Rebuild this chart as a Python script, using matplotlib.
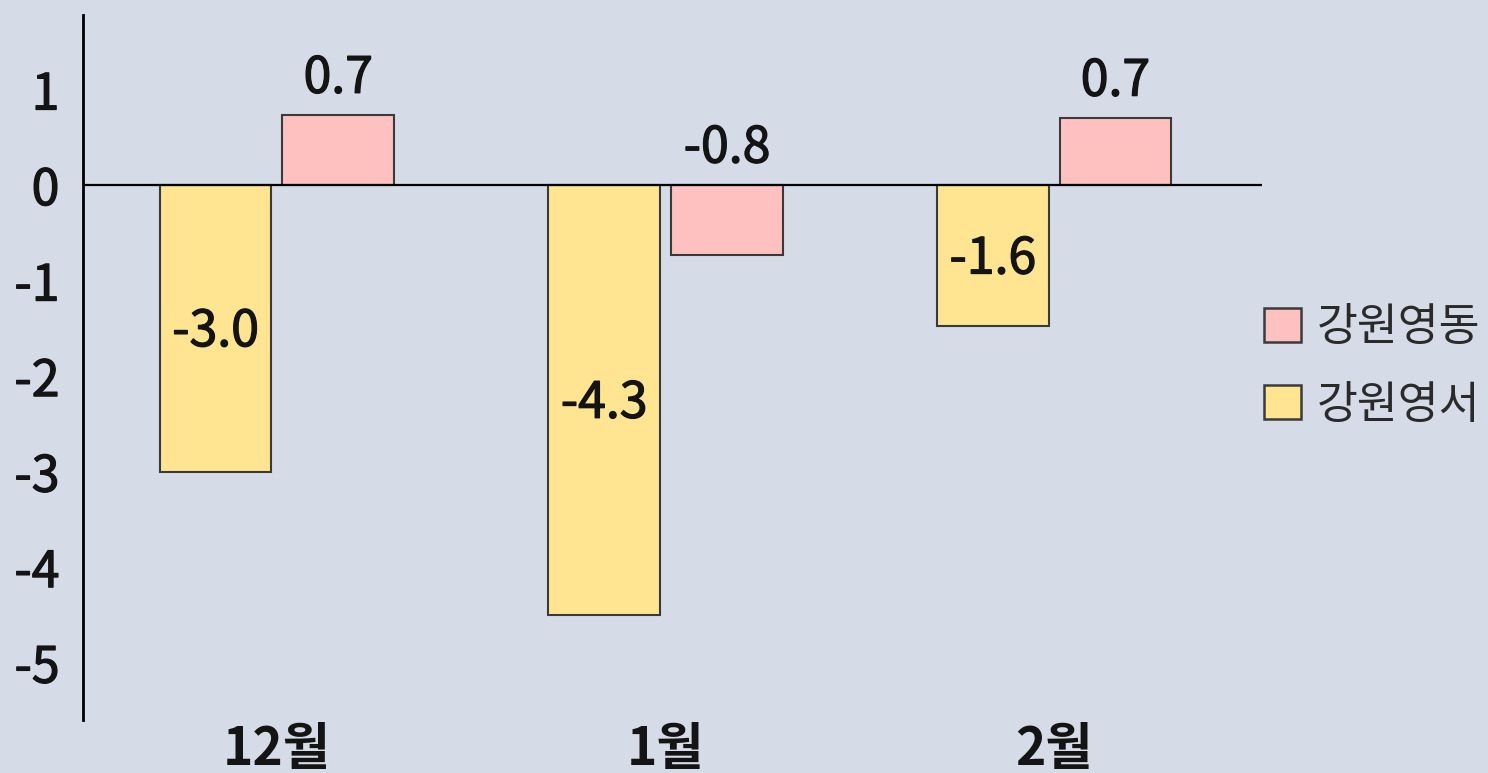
import matplotlib
matplotlib.use("Agg")
import matplotlib.pyplot as plt
import matplotlib.patheffects as pe
import numpy as np
from matplotlib.patches import Patch

plt.rcParams['font.family'] = ['Noto Sans CJK KR', 'DejaVu Sans']

categories = ['12월', '1월', '2월']
series_names = ['강원영동', '강원영서']
yeongdong = [0.73, -0.73, 0.70]      # bar heights
yeongseo = [-3.0, -4.5, -1.48]
yeongdong_labels = ['0.7', '-0.8', '0.7']
yeongseo_labels = ['-3.0', '-4.3', '-1.6']
yticks = [1, 0, -1, -2, -3, -4, -5]

bg = '#d5dce8'
pink = '#ffc0c0'
yellow = '#ffe592'
edge = '#3a3a3a'
txt = '#141414'
thick = [pe.withStroke(linewidth=0.9, foreground=txt)]

fig = plt.figure(figsize=(14.88, 7.73), dpi=100, facecolor=bg)
ax = fig.add_axes([83/1488, 1-720/773, (1262-83)/1488, (720-15)/773])
ax.set_facecolor(bg)

x = np.arange(len(categories))
w = 0.288
off = 0.158
ax.bar(x - off, yeongseo, w, color=yellow, edgecolor=edge, linewidth=1.5, zorder=2)
ax.bar(x + off, yeongdong, w, color=pink, edgecolor=edge, linewidth=1.5, zorder=2)

ax.axhline(0, color='black', linewidth=1.6, zorder=3)
ax.set_xlim(-0.499, 2.535)
ax.set_ylim(-5.60, 1.78)

for s in ['top', 'right', 'bottom']:
    ax.spines[s].set_visible(False)
ax.spines['left'].set_linewidth(2)
ax.spines['left'].set_color('black')

ax.set_yticks(yticks)
ax.set_yticklabels([str(t) for t in yticks], fontsize=36, color=txt)
for t in ax.get_yticklabels():
    t.set_path_effects(thick)
ax.tick_params(axis='y', length=0, pad=17)
ax.set_xticks([])

# category labels at bottom
for xi, c in zip(x, categories):
    ax.text(xi, -5.63, c, ha='center', va='top',
            fontsize=37, fontweight='bold', color=txt, clip_on=False)

# value labels
for xi, v, lab in zip(x, yeongdong, yeongdong_labels):
    top = max(v, 0)
    ax.text(xi + off, top + 0.11, lab, ha='center', va='bottom',
            fontsize=36, color=txt, path_effects=thick)
for xi, v, lab in zip(x, yeongseo, yeongseo_labels):
    ax.text(xi - off, v / 2 - 0.04, lab, ha='center', va='center',
            fontsize=36, color=txt, path_effects=thick)

handles = [Patch(facecolor=pink, edgecolor=edge, linewidth=1.8),
           Patch(facecolor=yellow, edgecolor=edge, linewidth=1.8)]
fig.legend(handles, series_names, loc='center left',
           bbox_to_anchor=(1264/1488, 1-366/773), frameon=False,
           fontsize=32, labelcolor='#2a2a2a', handlelength=0.83, handleheight=0.8,
           handletextpad=0.35, labelspacing=0.7, borderaxespad=0, borderpad=0)

fig.savefig('out.png', dpi=100, facecolor=bg)
